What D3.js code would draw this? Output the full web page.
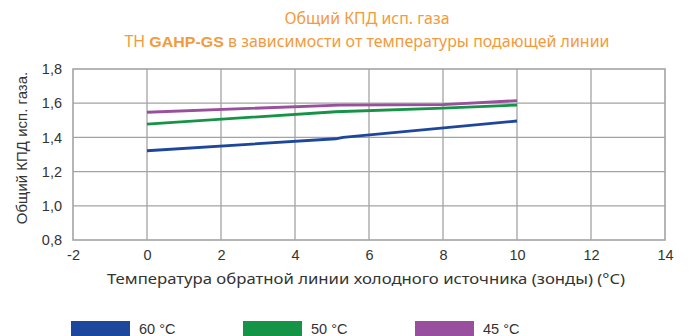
<!DOCTYPE html>
<html>
<head>
<meta charset="utf-8">
<script src="https://cdn.jsdelivr.net/npm/d3@7/dist/d3.min.js"></script>
<style>
  html, body { margin: 0; padding: 0; background: #fff; }
  svg { display: block; }
</style>
</head>
<body>
<svg id="chart" width="689" height="336"></svg>
<script>
// Return temperature of the cold source (probe), °C
const temps60 = [0, 5.1, 5.3, 10];
const values60 = [1.322, 1.392, 1.400, 1.496];
const temps50 = [0, 5.1, 8, 10];
const values50 = [1.478, 1.550, 1.571, 1.589];
const temps45 = [0, 5.2, 8, 10];
const values45 = [1.547, 1.589, 1.592, 1.615];

const seriesNames = ["60 °C", "50 °C", "45 °C"];
const seriesColors = ["#1d479c", "#159447", "#984f9d"];

const xTicks = [-2, 0, 2, 4, 6, 8, 10, 12, 14];
const yTicks = [0.8, 1.0, 1.2, 1.4, 1.6, 1.8];

const titleLine1 = "Общий КПД исп. газа";
const titleLine2a = "ТН ";
const titleLine2b = "GAHP-GS";
const titleLine2c = " в зависимости от температуры подающей линии";
const xTitle = "Температура обратной линии холодного источника (зонды) (°C)";
const yTitle = "Общий КПД исп. газа.";

const series = [
  { name: seriesNames[0], color: seriesColors[0], pts: temps60.map((t, i) => [t, values60[i]]) },
  { name: seriesNames[1], color: seriesColors[1], pts: temps50.map((t, i) => [t, values50[i]]) },
  { name: seriesNames[2], color: seriesColors[2], pts: temps45.map((t, i) => [t, values45[i]]) }
];

const svg = d3.select("#chart");
const plot = { left: 73, right: 665, top: 69, bottom: 240 };

const x = d3.scaleLinear().domain([-2, 14]).range([plot.left, plot.right]);
const y = d3.scaleLinear().domain([0.8, 1.8]).range([plot.bottom, plot.top]);

const gridColor = "#a3a3a3";
const textColor = "#333";
const orange = "#f39a3c";
const fmtY = d => d3.format(".1f")(d).replace(".", ",");
const fmtX = d => String(d);

// Title
const title = svg.append("g").attr("fill", orange)
  .style("font-family", "'Noto Sans', 'Open Sans', sans-serif");
title.append("text")
  .attr("x", 367).attr("y", 24)
  .attr("text-anchor", "middle")
  .attr("font-size", 15.5)
  .attr("textLength", 165).attr("lengthAdjust", "spacingAndGlyphs")
  .text(titleLine1);
const t2 = title.append("text")
  .attr("x", 367).attr("y", 47)
  .attr("text-anchor", "middle")
  .attr("font-size", 15.5)
  .attr("textLength", 485).attr("lengthAdjust", "spacingAndGlyphs");
t2.append("tspan").text(titleLine2a);
t2.append("tspan").attr("font-weight", "bold")
  .style("font-family", "'Liberation Sans', Arial, sans-serif").text(titleLine2b);
t2.append("tspan").text(titleLine2c);

// Grid
const grid = svg.append("g");
grid.selectAll("line.v").data(xTicks.slice(1, -1)).join("line")
  .attr("x1", d => x(d)).attr("x2", d => x(d))
  .attr("y1", plot.top).attr("y2", plot.bottom)
  .attr("stroke", gridColor).attr("stroke-width", 1.3);
grid.selectAll("line.h").data(yTicks.slice(1, -1)).join("line")
  .attr("x1", plot.left).attr("x2", plot.right)
  .attr("y1", d => y(d)).attr("y2", d => y(d))
  .attr("stroke", gridColor).attr("stroke-width", 1.3);
svg.append("rect")
  .attr("x", plot.left).attr("y", plot.top)
  .attr("width", plot.right - plot.left).attr("height", plot.bottom - plot.top)
  .attr("fill", "none").attr("stroke", gridColor).attr("stroke-width", 1.6);

// Axes (labels only, the frame is drawn above)
const xAxis = svg.append("g")
  .attr("transform", `translate(0,${plot.bottom})`)
  .call(d3.axisBottom(x).tickValues(xTicks).tickSize(0).tickPadding(10).tickFormat(fmtX));
xAxis.select(".domain").remove();
xAxis.selectAll("text")
  .attr("fill", textColor)
  .style("font-family", "'Liberation Sans', Arial, sans-serif")
  .style("font-size", "14.5px");

const yAxis = svg.append("g")
  .attr("transform", `translate(${plot.left},0)`)
  .call(d3.axisLeft(y).tickValues(yTicks).tickSize(0).tickPadding(11).tickFormat(fmtY));
yAxis.select(".domain").remove();
yAxis.selectAll("text")
  .attr("fill", textColor)
  .style("font-family", "'Liberation Sans', Arial, sans-serif")
  .style("font-size", "14.5px");

// Axis titles
svg.append("text")
  .attr("x", 366).attr("y", 284)
  .attr("text-anchor", "middle")
  .attr("fill", textColor)
  .style("font-family", "'Noto Sans', 'Open Sans', sans-serif")
  .attr("font-size", 15)
  .attr("textLength", 518).attr("lengthAdjust", "spacingAndGlyphs")
  .text(xTitle);

svg.append("text")
  .attr("transform", "translate(27,148) rotate(-90)")
  .attr("text-anchor", "middle")
  .attr("fill", textColor)
  .style("font-family", "'Liberation Sans', Arial, sans-serif")
  .attr("font-size", 15)
  .text(yTitle);

// Series lines
const line = d3.line().x(d => x(d[0])).y(d => y(d[1]));
svg.append("g").selectAll("path").data(series).join("path")
  .attr("d", d => line(d.pts))
  .attr("fill", "none")
  .attr("stroke", d => d.color)
  .attr("stroke-width", 2.8);

// Legend
const legend = svg.append("g").selectAll("g").data(series).join("g")
  .attr("transform", (d, i) => `translate(${71 + i * 172},321)`);
legend.append("rect")
  .attr("width", 59).attr("height", 18)
  .attr("fill", d => d.color);
legend.append("text")
  .attr("x", 68).attr("y", 13)
  .attr("fill", textColor)
  .style("font-family", "'Liberation Sans', Arial, sans-serif")
  .attr("font-size", 14.5)
  .text(d => d.name);
</script>
</body>
</html>
